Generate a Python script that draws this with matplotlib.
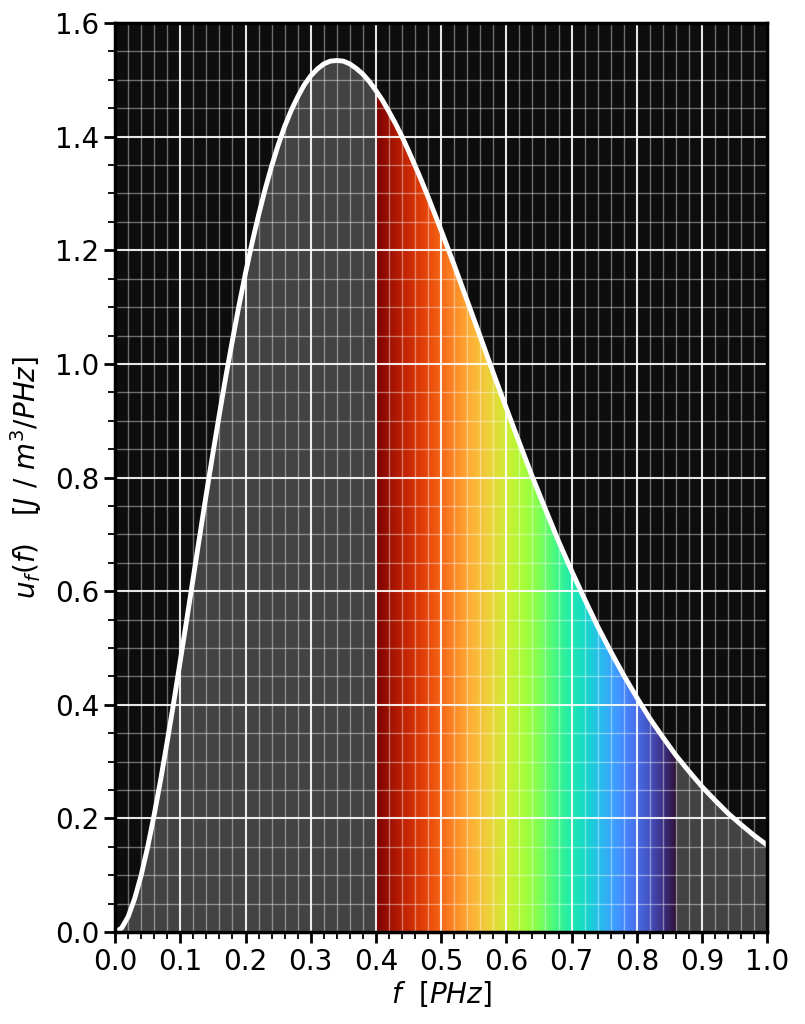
import numpy as np
import matplotlib
matplotlib.use("Agg")
import matplotlib.pyplot as plt
from matplotlib.patches import Polygon

# Frequency [PHz] and spectral energy density u_f [J/m^3/PHz]
freq = [0.00, 0.01, 0.02, 0.03, 0.04, 0.05, 0.06, 0.07, 0.08, 0.09,
        0.10, 0.11, 0.12, 0.13, 0.14, 0.15, 0.16, 0.17, 0.18, 0.19,
        0.20, 0.21, 0.22, 0.23, 0.24, 0.25, 0.26, 0.27, 0.28, 0.29,
        0.30, 0.31, 0.32, 0.33, 0.34, 0.35, 0.36, 0.37, 0.38, 0.39,
        0.40, 0.41, 0.42, 0.43, 0.44, 0.45, 0.46, 0.47, 0.48,
        0.50, 0.52, 0.54, 0.56, 0.58,
        0.60, 0.62, 0.64, 0.66, 0.68, 0.70, 0.72, 0.74, 0.76, 0.78,
        0.80, 0.82, 0.84, 0.86, 0.88, 0.90, 0.92, 0.94, 0.96, 0.98, 1.00]
u_f = [0.000, 0.007, 0.027, 0.059, 0.100, 0.150, 0.207, 0.269, 0.336, 0.405,
       0.478, 0.551, 0.625, 0.699, 0.772, 0.843, 0.912, 0.979, 1.042, 1.103,
       1.160, 1.213, 1.262, 1.307, 1.348, 1.385, 1.418, 1.446, 1.470, 1.491,
       1.507, 1.519, 1.528, 1.533, 1.534, 1.533, 1.528, 1.520, 1.510, 1.497,
       1.481, 1.464, 1.444, 1.423, 1.400, 1.375, 1.349, 1.322, 1.294,
       1.235, 1.174, 1.111, 1.048, 0.984,
       0.922, 0.861, 0.801, 0.744, 0.688, 0.636, 0.586, 0.538, 0.494, 0.452,
       0.413, 0.376, 0.343, 0.311, 0.283, 0.256, 0.232, 0.209, 0.189, 0.170, 0.153]

# visible band limits [PHz]
vis_lo, vis_hi = 0.40, 0.86

xticks = [0.0, 0.1, 0.2, 0.3, 0.4, 0.5, 0.6, 0.7, 0.8, 0.9, 1.0]
yticks = [0.0, 0.2, 0.4, 0.6, 0.8, 1.0, 1.2, 1.4, 1.6]

f = np.array(freq)
u = np.array(u_f)

fig = plt.figure(figsize=(8.05, 10.24), dpi=100)
ax = fig.add_axes([0.143, 0.0898, 0.81, 0.8877])
ax.set_facecolor('#0d0d0d')

# grey fill under the whole curve
ax.fill_between(f, 0, u, color='#434343', linewidth=0, zorder=1)

# visible spectrum gradient clipped to the area under the curve
mask = (f >= vis_lo - 1e-9) & (f <= vis_hi + 1e-9)
fv, uv = f[mask], u[mask]
verts = np.column_stack([np.concatenate([[fv[0]], fv, [fv[-1]]]),
                         np.concatenate([[0], uv, [0]])])
poly = Polygon(verts, closed=True, facecolor='none', edgecolor='none', transform=ax.transData)
ax.add_patch(poly)
grad = np.linspace(0, 1, 256).reshape(1, -1)
im = ax.imshow(grad, cmap='turbo_r', aspect='auto',
               extent=[vis_lo, vis_hi, 0, 1.6], origin='lower', zorder=2,
               interpolation='bilinear')
im.set_clip_path(poly)

# curve
ax.plot(f, u, color='white', linewidth=3.5, zorder=5,
        solid_capstyle='round', solid_joinstyle='round')

ax.set_xlim(0, 1.0)
ax.set_ylim(0, 1.6)
ax.set_xticks(xticks)
ax.set_yticks(yticks)
ax.set_xticks(np.arange(0, 1.0001, 0.02), minor=True)
ax.set_yticks(np.arange(0, 1.6001, 0.05), minor=True)
ax.set_axisbelow(False)
ax.grid(which='major', color='white', linewidth=1.5, alpha=0.9, zorder=3)
ax.grid(which='minor', color='white', linewidth=1.0, alpha=0.4, zorder=3)

ax.tick_params(which='major', direction='out', length=8, width=2, labelsize=20, color='black')
ax.tick_params(which='minor', direction='out', length=5, width=1.3, color='black')
for s in ax.spines.values():
    s.set_linewidth(2.5)
    s.set_color('black')
    s.set_zorder(6)

ax.set_xlabel(r'$f$  $[PHz]$', fontsize=20, labelpad=2)
ax.set_ylabel(r'$u_f(f)$   $[J\ /\ m^3/PHz]$', fontsize=20, labelpad=8)

fig.savefig('out.png', dpi=100)
